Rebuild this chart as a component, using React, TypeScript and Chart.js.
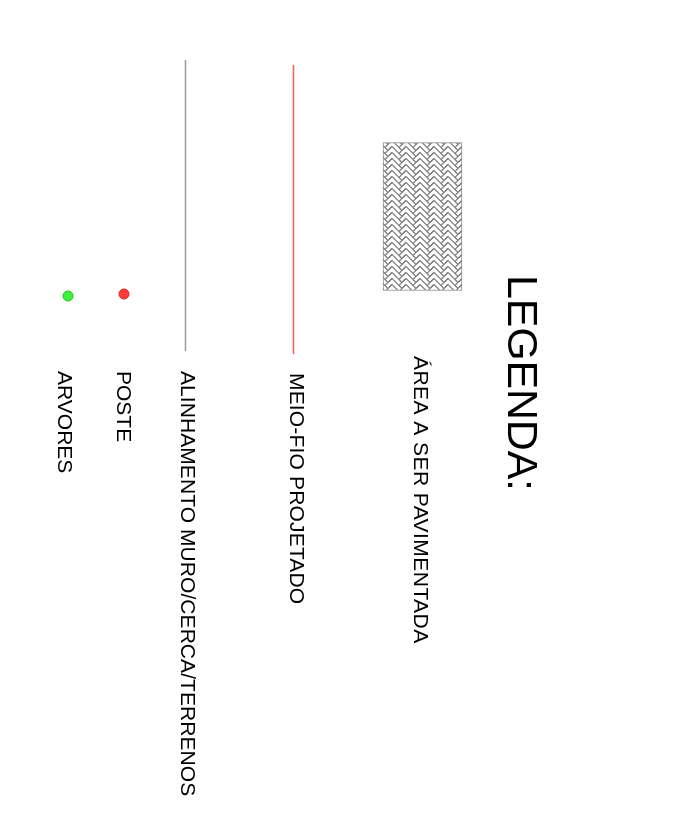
import React, { useEffect, useRef } from "react";
import { Chart, registerables } from "chart.js";

Chart.register(...registerables);

// Legend texts
const legendTexts = [
  "LEGENDA:",
  "ÁREA A SER PAVIMENTADA",
  "MEIO-FIO PROJETADO",
  "ALINHAMENTO MURO/CERCA/TERRENOS",
  "POSTE",
  "ARVORES",
];
// anchor (baseline x, start y) in drawing units
const textAnchorX = [508, 413.5, 290, 181, 116.5, 58];
const textAnchorY = [275, 356, 373, 371, 371, 371];
const textSizes = [43, 21, 21, 21, 21, 21];
const textSpacing = [-0.2, 0.45, 0.17, 0.07, 0, 0];

// paved area symbol (x centre, y range)
const areaX = [422.5];
const areaY: [number, number][] = [[142.5, 290.5]];

// lines
const meioFioLine = [
  { x: 293.5, y: 65 },
  { x: 293.5, y: 354 },
];
const muroLine = [
  { x: 185.5, y: 60 },
  { x: 185.5, y: 351 },
];

// points
const postePts = [{ x: 124, y: 294 }];
const arvoresPts = [{ x: 68, y: 296 }];

function makePattern(ctx: CanvasRenderingContext2D) {
  const w = 14;
  const h = 12;
  const s = 6;
  const a = 3.5;
  const c = document.createElement("canvas");
  c.width = w;
  c.height = h;
  const g = c.getContext("2d")!;
  g.fillStyle = "#ffffff";
  g.fillRect(0, 0, w, h);
  g.strokeStyle = "#7c7c7c";
  g.lineWidth = 1.2;
  const offs = [-12, -6, 0, 6, 12, 18];
  for (const off of offs) {
    g.beginPath();
    g.moveTo(0, off - a);
    g.lineTo(w / 2, off + a);
    g.lineTo(w, off - a);
    g.stroke();
  }
  for (const off of offs) {
    g.beginPath();
    g.moveTo(w / 2, off + a);
    g.lineTo(w / 2 + s / 2, off + a + s / 2);
    g.moveTo(0, off - a);
    g.lineTo(-s / 2, off - a + s / 2);
    g.moveTo(w, off - a);
    g.lineTo(w - s / 2, off - a + s / 2);
    g.stroke();
  }
  return ctx.createPattern(c, "repeat")!;
}

const textPlugin = {
  id: "rotatedTexts",
  afterDatasetsDraw(chart: any) {
    const { ctx, scales } = chart;
    legendTexts.forEach((t, i) => {
      const px = scales.x.getPixelForValue(textAnchorX[i]);
      const py = scales.y.getPixelForValue(textAnchorY[i]);
      ctx.save();
      ctx.translate(px, py);
      ctx.rotate(Math.PI / 2);
      ctx.font = `${textSizes[i]}px "Liberation Sans", Arial, sans-serif`;
      (ctx as any).letterSpacing = `${textSpacing[i]}px`;
      ctx.fillStyle = "#000000";
      ctx.textAlign = "left";
      ctx.textBaseline = "alphabetic";
      ctx.fillText(t, 0, 0);
      ctx.restore();
    });
  },
};

export default function App() {
  const ref = useRef<HTMLCanvasElement>(null);
  useEffect(() => {
    const canvas = ref.current!;
    const pattern = makePattern(canvas.getContext("2d")!);
    const chart = new Chart(canvas, {
      type: "scatter",
      data: {
        datasets: [
          {
            type: "bar",
            label: "area",
            data: areaX.map((x, i) => ({ x, y: areaY[i] })) as any,
            backgroundColor: pattern as any,
            borderColor: "#888888",
            borderWidth: 1,
            borderSkipped: false,
            barThickness: 79,
          } as any,
          {
            type: "line",
            label: "meio-fio",
            data: meioFioLine,
            borderColor: "#ff5a5a",
            borderWidth: 1.5,
            pointRadius: 0,
          },
          {
            type: "line",
            label: "muro",
            data: muroLine,
            borderColor: "#9c9c9c",
            borderWidth: 1.5,
            pointRadius: 0,
          },
          {
            label: "poste",
            data: postePts,
            backgroundColor: "#ff3b3b",
            borderColor: "#e02020",
            borderWidth: 1,
            pointRadius: 5,
          },
          {
            label: "arvores",
            data: arvoresPts,
            backgroundColor: "#3cf03c",
            borderColor: "#22c022",
            borderWidth: 1,
            pointRadius: 5,
          },
        ],
      },
      options: {
        responsive: false,
        animation: false,
        devicePixelRatio: 1,
        layout: { padding: 0, autoPadding: false },
        plugins: { legend: { display: false }, tooltip: { enabled: false }, title: { display: false } },
        scales: {
          x: { type: "linear", min: 0, max: 674, display: false, offset: false },
          y: { type: "linear", min: 0, max: 828, reverse: true, display: false },
        },
      },
      plugins: [textPlugin],
    });
    return () => chart.destroy();
  }, []);
  return (
    <canvas
      ref={ref}
      width={674}
      height={828}
      style={{ position: "fixed", left: 0, top: 0, width: 674, height: 828, background: "#fff" }}
    />
  );
}
